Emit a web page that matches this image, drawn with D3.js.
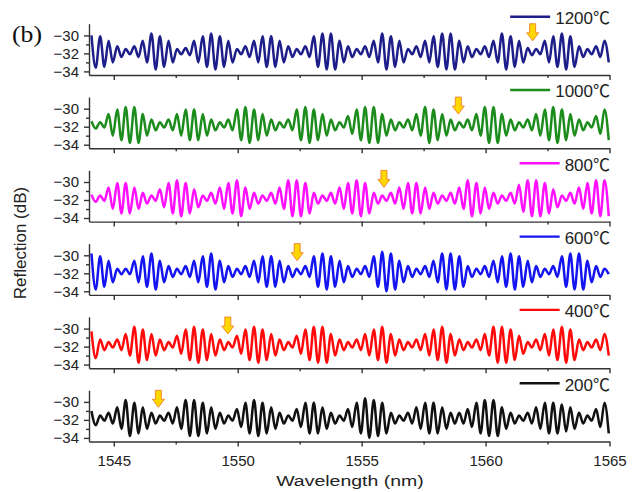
<!DOCTYPE html>
<html>
<head>
<meta charset="utf-8">
<script src="https://cdn.jsdelivr.net/npm/d3@7"></script>
<style>
  body { margin: 0; background: #fff; }
  svg { display: block; }
</style>
</head>
<body>
<div id="chart"></div>
<script>
// panels, top to bottom
const temps = ["1200℃", "1000℃", "800℃", "600℃", "400℃", "200℃"];

// wavelength (nm) of each fringe maximum / minimum
const peakNm = [1544.10, 1544.45, 1544.79, 1545.14, 1545.48, 1545.83, 1546.17, 1546.52, 1546.86, 1547.21,
  1547.55, 1547.90, 1548.24, 1548.59, 1548.93, 1549.28, 1549.62, 1549.97, 1550.31, 1550.66,
  1551.00, 1551.35, 1551.69, 1552.04, 1552.38, 1552.73, 1553.07, 1553.42, 1553.76, 1554.11,
  1554.45, 1554.80, 1555.14, 1555.49, 1555.83, 1556.18, 1556.52, 1556.87, 1557.21, 1557.56,
  1557.90, 1558.25, 1558.59, 1558.94, 1559.28, 1559.63, 1559.97, 1560.32, 1560.66, 1561.01,
  1561.35, 1561.70, 1562.04, 1562.39, 1562.73, 1563.08, 1563.42, 1563.77, 1564.11, 1564.46, 1564.80];
const troughNm = [1544.27, 1544.62, 1544.96, 1545.31, 1545.65, 1546.00, 1546.34, 1546.69, 1547.03, 1547.38,
  1547.72, 1548.07, 1548.41, 1548.76, 1549.10, 1549.45, 1549.79, 1550.14, 1550.48, 1550.83,
  1551.17, 1551.52, 1551.86, 1552.21, 1552.55, 1552.90, 1553.24, 1553.59, 1553.93, 1554.28,
  1554.62, 1554.97, 1555.31, 1555.66, 1556.00, 1556.35, 1556.69, 1557.04, 1557.38, 1557.73,
  1558.07, 1558.42, 1558.76, 1559.11, 1559.45, 1559.80, 1560.14, 1560.49, 1560.83, 1561.18,
  1561.52, 1561.87, 1562.21, 1562.56, 1562.90, 1563.25, 1563.59, 1563.94, 1564.28, 1564.63, 1564.97];

// fringe half-amplitude (dB) read per fringe
const amp1200 = [1.8,1.7,1.2,0.6,0.3,0.6,1.2,2.0,1.7,1.2, 0.3,0.4,1.2,1.7,2.0,1.7,1.2,0.3,0.6,1.2,
  1.7,1.7,1.2,0.6,0.3,0.6,1.7,2.0,2.0,1.2, 0.6,0.3,0.6,1.2,2.0,1.7,1.2,0.3,0.6,1.2,
  1.7,2.0,2.0,1.2,0.6,0.3,0.6,1.2,2.0,1.7, 1.2,0.4,0.3,1.2,1.7,2.0,1.7,0.6,0.3,0.6, 1.2];
const amp1000 = [0.4,0.3,1.2,1.7,2.0,2.0,1.2,0.6,0.3,0.6, 1.2,1.7,1.7,1.2,0.6,0.3,0.6,1.7,2.0,1.7,
  1.2,0.6,0.3,0.6,1.7,2.0,1.7,1.2,0.6,0.3, 1.0,1.7,2.0,2.0,1.2,0.6,0.3,0.6,1.2,2.0,
  1.7,1.2,0.6,0.3,0.6,1.2,2.0,2.0,1.2,0.6, 0.3,0.6,1.2,1.7,2.0,1.7,1.2,0.6,0.3,1.0, 1.7];
const amp800 = [0.4,0.3,1.2,1.7,1.7,1.2,0.6,0.3,1.0,1.7, 2.0,1.7,1.0,0.3,0.6,1.2,1.7,2.0,1.2,0.6,
  0.3,0.6,1.2,2.0,2.0,1.7,0.6,0.3,0.6,1.2, 1.7,2.0,1.7,0.6,0.3,0.6,1.2,1.7,1.7,1.2,
  0.6,0.3,0.6,1.2,2.0,1.7,1.2,0.6,0.3,0.6, 1.5,2.0,2.0,1.7,1.0,0.3,0.6,1.2,1.7,2.0, 2.0];
const amp600 = [2.0,1.7,1.2,0.3,0.3,1.2,1.7,2.0,1.2,0.6, 0.3,0.6,1.2,1.7,2.0,1.2,0.6,0.3,0.6,1.2,
  1.7,1.7,1.2,0.6,0.3,0.6,1.7,2.0,1.7,1.2, 0.6,0.3,0.6,1.7,2.2,2.0,1.2,0.6,0.3,0.6,
  1.2,2.0,2.0,1.7,0.6,0.3,0.6,1.2,1.7,2.0, 1.7,1.2,0.6,0.3,0.6,1.7,2.0,2.0,1.2,0.6, 0.3];
const amp400 = [1.5,0.6,0.3,0.6,1.2,2.0,1.7,1.2,0.6,0.3, 1.0,1.7,2.0,1.7,1.2,0.6,0.3,1.0,1.7,2.0,
  1.7,1.2,0.6,0.3,1.0,1.7,2.0,2.0,1.2,0.6, 0.3,0.6,1.2,1.7,2.0,1.2,0.6,0.3,0.6,1.2,
  1.7,2.0,1.2,0.6,0.3,0.6,1.2,2.0,2.0,1.7, 1.0,0.3,0.6,1.2,1.7,2.0,1.7,0.6,0.3,0.6, 1.2];
const amp200 = [0.8,0.3,0.6,1.2,2.0,1.7,1.2,0.6,0.3,0.6, 1.2,2.0,2.0,1.7,1.2,0.6,0.3,1.0,1.7,2.0,
  1.7,1.2,0.6,0.3,1.0,1.7,1.7,1.2,0.6,0.3, 1.0,1.7,2.2,2.0,1.7,0.6,0.3,0.6,1.2,1.7,
  1.7,1.2,0.6,0.6,1.0,1.7,2.0,2.0,1.2,0.6, 0.3,0.6,1.2,1.7,1.7,1.5,1.2,0.6,0.3,1.0, 1.7];
const meanLevel = -31.8;

// yellow arrows (dip tracked with temperature)
const arrowNm = [1561.9, 1558.9, 1555.9, 1552.4, 1549.6, 1546.8];
const arrowLevel = -30.6;

const xTicks = [1545, 1550, 1555, 1560, 1565];
const xMinor = [1547.5, 1552.5, 1557.5, 1562.5];
const yTicks = [-30, -32, -34];
const yMinor = [-31, -33];

const amps = [amp1200, amp1000, amp800, amp600, amp400, amp200];
const colors = ["#1e1e8a", "#1c8c1c", "#ff10ff", "#1414f0", "#ff0a0a", "#111111"];

const width = 636, height = 492;
const firstBottom = 75, panelStep = 73.3, panelH = 51.3;

const svg = d3.select("#chart").append("svg")
    .attr("width", width)
    .attr("height", height)
    .style("font-family", "Arial, 'Liberation Sans', 'Noto Sans CJK SC', sans-serif");

const x = d3.scaleLinear().domain([1544, 1565]).range([89, 609.5]);

temps.forEach(function(t, p) {
  const bottom = firstBottom + p * panelStep;
  const y = d3.scaleLinear().domain([-34.4, -28.7]).range([bottom, bottom - panelH]);
  const g = svg.append("g");

  // y axis
  g.append("g").attr("transform", "translate(" + x(1544) + ",0)")
      .call(d3.axisLeft(y).tickValues(yTicks).tickSize(5).tickSizeOuter(0).tickPadding(5)
        .tickFormat(d3.format("d")));
  g.append("g").attr("transform", "translate(" + x(1544) + ",0)")
      .call(d3.axisLeft(y).tickValues(yMinor).tickSize(3).tickSizeOuter(0).tickFormat(""))
      .select(".domain").remove();

  // x axis
  g.append("g").attr("transform", "translate(0," + bottom + ")")
      .call(d3.axisBottom(x).tickValues(xTicks).tickSize(5).tickSizeOuter(0).tickPadding(9)
        .tickFormat(p === temps.length - 1 ? d3.format("d") : ""));
  g.append("g").attr("transform", "translate(0," + bottom + ")")
      .call(d3.axisBottom(x).tickValues(xMinor).tickSize(3).tickSizeOuter(0).tickFormat(""))
      .select(".domain").remove();

  g.selectAll(".domain, .tick line").attr("stroke", "#333").attr("stroke-width", 1.4);
  g.selectAll(".tick text").attr("fill", "#222").style("font-size", "15px");

  // spectrum
  const pts = [];
  peakNm.forEach(function(w, i) {
    pts.push([w, meanLevel + amps[p][i]]);
    pts.push([troughNm[i], meanLevel - amps[p][i]]);
  });
  const line = d3.line()
      .x(function(d) { return x(d[0]); })
      .y(function(d) { return y(d[1]); })
      .curve(d3.curveMonotoneX);
  g.append("path")
      .datum(pts)
      .attr("fill", "none")
      .attr("stroke", colors[p])
      .attr("stroke-width", 2.5)
      .attr("stroke-linejoin", "round")
      .attr("d", line);

  // arrow
  const ax = x(arrowNm[p]), ay = y(arrowLevel);
  g.append("path")
      .attr("d", "M" + ax + "," + ay + " l-6,-8 h3 v-9 h6 v9 h3 z")
      .attr("fill", "#ffd800")
      .attr("stroke", "#f08a30")
      .attr("stroke-width", 1)
      .attr("stroke-linejoin", "round");

  // legend
  const ly = bottom - 58.3;
  const lt = g.append("text")
      .attr("x", 610)
      .attr("y", ly + 7.3)
      .attr("text-anchor", "end")
      .attr("fill", "#222")
      .style("font-size", "17px")
      .text(t);
  const tw = lt.node().getComputedTextLength();
  g.append("line")
      .attr("x1", 610 - tw - 45).attr("x2", 610 - tw - 5)
      .attr("y1", ly).attr("y2", ly)
      .attr("stroke", colors[p])
      .attr("stroke-width", 2.4);
});

// titles
svg.append("text")
    .attr("transform", "translate(350,486) scale(1.3,1)")
    .attr("text-anchor", "middle")
    .attr("fill", "#222")
    .style("font-size", "15px")
    .text("Wavelength (nm)");

svg.append("text")
    .attr("transform", "translate(26,243) rotate(-90)")
    .attr("text-anchor", "middle")
    .attr("fill", "#222")
    .style("font-size", "17px")
    .text("Reflection (dB)");

svg.append("text")
    .attr("transform", "translate(12,42) scale(1.12,1)")
    .attr("fill", "#111")
    .style("font-family", "'Liberation Serif', 'Times New Roman', serif")
    .style("font-size", "23px")
    .text("(b)");
</script>
</body>
</html>
